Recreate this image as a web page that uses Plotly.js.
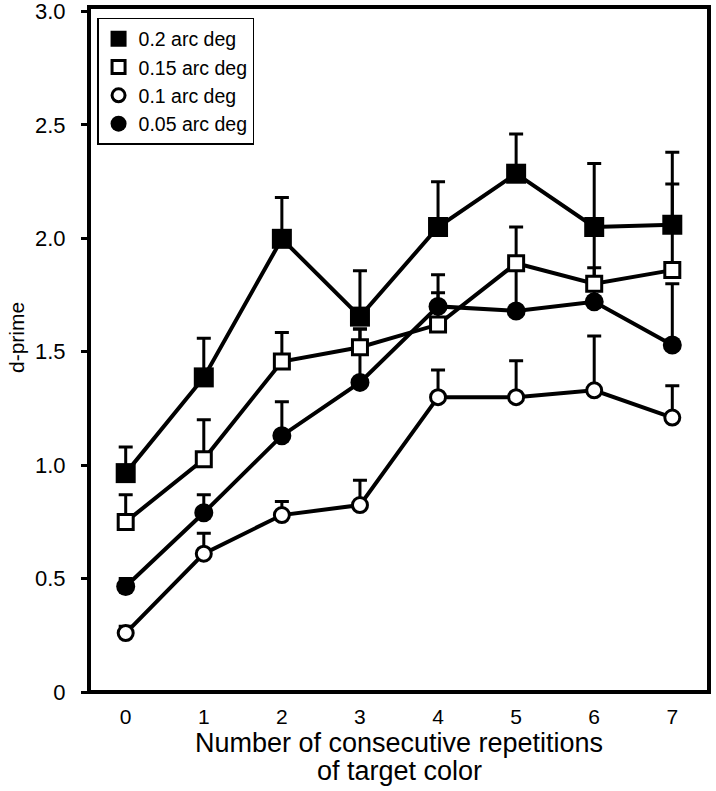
<!DOCTYPE html>
<html>
<head>
<meta charset="utf-8">
<script src="https://cdn.plot.ly/plotly-3.0.1.min.js"></script>
<style>html,body{margin:0;padding:0;background:#fff;}#chart{width:716px;height:791px;}</style>
</head>
<body>
<div id="chart"></div>
<script>
const reps = [0, 1, 2, 3, 4, 5, 6, 7];
const xTickText = ['0', '1', '2', '3', '4', '5', '6', '7'];
const yTickVals = [0, 0.5, 1.0, 1.5, 2.0, 2.5, 3.0];
const yTickText = ['0', '0.5', '1.0', '1.5', '2.0', '2.5', '3.0'];

const seriesNames = ['0.2 arc deg', '0.15 arc deg', '0.1 arc deg', '0.05 arc deg'];
const xTitleLine1 = 'Number of consecutive repetitions';
const xTitleLine2 = 'of target color';
const yTitle = 'd-prime';

// mean d-prime values
const dp02  = [0.965, 1.387, 1.998, 1.655, 2.05, 2.285, 2.05, 2.06];
const dp015 = [0.75, 1.026, 1.457, 1.52, 1.62, 1.89, 1.80, 1.86];
const dp01  = [0.26, 0.61, 0.78, 0.824, 1.30, 1.30, 1.33, 1.21];
const dp005 = [0.465, 0.79, 1.13, 1.365, 1.70, 1.68, 1.72, 1.53];

// upper error bar ends (top of error bars)
const top02  = [1.08, 1.56, 2.18, 1.857, 2.25, 2.46, 2.33, 2.38];
const top015 = [0.87, 1.20, 1.585, 1.60, 1.76, 2.05, 2.03, 2.24];
const top01  = [0.29, 0.70, 0.84, 0.934, 1.42, 1.46, 1.57, 1.35];
const top005 = [0.50, 0.87, 1.28, 1.60, 1.84, 1.86, 1.87, 1.80];

function errUp(vals, tops) { return vals.map((v, i) => tops[i] - v); }
function zeros(n) { return new Array(n).fill(0); }

function mk(name, y, tops, symbol, size, fill, lineW) {
  return {
    type: 'scatter', mode: 'lines+markers', x: reps, y: y, name: name,
    showlegend: false, cliponaxis: false,
    line: {color: '#000', width: 4},
    marker: {symbol: symbol, size: size, color: fill, line: {color: '#000', width: lineW}},
    error_y: {type: 'data', symmetric: false, array: errUp(y, tops), arrayminus: zeros(y.length),
              color: '#000', thickness: 3, width: 7}
  };
}
function lg(name, symbol, size, fill, lineW, rank) {
  return {
    type: 'scatter', mode: 'markers', x: [null], y: [null], name: name, legendrank: rank,
    marker: {symbol: symbol, size: size, color: fill, line: {color: '#000', width: lineW}}
  };
}

const data = [
  mk(seriesNames[2], dp01, top01, 'circle', 15, '#fff', 3),
  mk(seriesNames[3], dp005, top005, 'circle', 19, '#000', 0),
  mk(seriesNames[1], dp015, top015, 'square', 15, '#fff', 3),
  mk(seriesNames[0], dp02, top02, 'square', 20, '#000', 0),
  lg(seriesNames[0], 'square', 16, '#000', 0, 1),
  lg(seriesNames[1], 'square', 13, '#fff', 3, 2),
  lg(seriesNames[2], 'circle', 13, '#fff', 3, 3),
  lg(seriesNames[3], 'circle', 16, '#000', 0, 4)
];

const font = 'Liberation Sans, Arial, Helvetica, sans-serif';
const layout = {
  width: 716, height: 791,
  margin: {l: 89, r: 7, t: 7, b: 99},
  paper_bgcolor: '#fff', plot_bgcolor: '#fff',
  font: {family: font, color: '#000'},
  showlegend: true,
  legend: {
    x: 0.013, y: 0.984, xanchor: 'left', yanchor: 'top',
    bgcolor: '#fff', bordercolor: '#000', borderwidth: 1.5,
    font: {family: font, size: 19.5, color: '#000'},
    itemsizing: 'trace', tracegroupgap: 0
  },
  xaxis: {
    range: [-0.47, 7.47], tickvals: reps, ticktext: xTickText,
    ticks: '', showgrid: false, zeroline: false, showline: false,
    tickfont: {size: 21, family: font}, ticklabelstandoff: 10, ticklabeloverflow: 'allow',
    title: {text: xTitleLine1, font: {size: 27, family: font}, standoff: 4}
  },
  yaxis: {
    range: [0, 3.02], tickvals: yTickVals, ticktext: yTickText,
    ticks: 'outside', ticklen: 7, tickwidth: 3, tickcolor: '#000',
    showgrid: false, zeroline: false, showline: false,
    tickfont: {size: 22, family: font}, ticklabelstandoff: 11, ticklabeloverflow: 'allow'
  },
  shapes: [{
    type: 'rect', xref: 'paper', yref: 'paper', x0: 0, x1: 1, y0: 0, y1: 1,
    line: {color: '#000', width: 4}, fillcolor: 'rgba(0,0,0,0)', layer: 'above'
  }],
  annotations: [
    {
      text: yTitle, xref: 'paper', yref: 'paper', x: -0.118, y: 0.518,
      xanchor: 'center', yanchor: 'middle', textangle: -90, showarrow: false,
      font: {size: 21, family: font, color: '#000'}
    },
    {
      text: xTitleLine2, xref: 'paper', yref: 'paper', x: 0.5, y: -0.1146,
      xanchor: 'center', yanchor: 'middle', showarrow: false,
      font: {size: 27, family: font, color: '#000'}
    }
  ]
};

Plotly.newPlot('chart', data, layout, {staticPlot: true, displayModeBar: false});
</script>
</body>
</html>
